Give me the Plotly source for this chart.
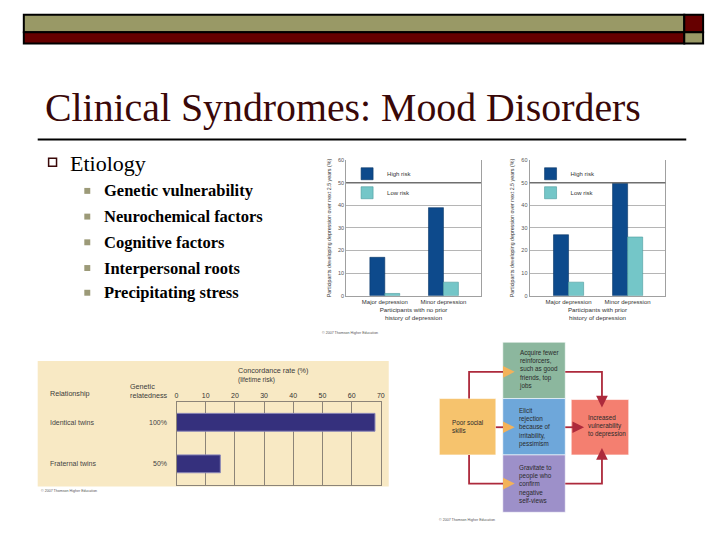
import plotly.graph_objects as go

W, H = 720, 540
def X(px): return px / W
def Y(py): return 1 - py / H

# ---------------- data ----------------
slide_title = "Clinical Syndromes: Mood Disorders"
main_bullet = "Etiology"
sub_bullets = ["Genetic vulnerability", "Neurochemical factors", "Cognitive factors",
               "Interpersonal roots", "Precipitating stress"]

risk_groups = ["High risk", "Low risk"]
depression_types = ["Major depression", "Minor depression"]
no_prior_high = [17, 39]
no_prior_low = [1, 6]
prior_high = [27, 50]
prior_low = [6, 26]

twin_relationships = ["Identical twins", "Fraternal twins"]
genetic_relatedness = ["100%", "50%"]
concordance_rate = [68, 15]
concordance_ticks = [0, 10, 20, 30, 40, 50, 60, 70]

# ---------------- styles ----------------
HIGH = "#0d4a8c"
LOW = "#74c6c8"
TWIN = "#35307d"
BEIGE = "#f8e9c4"
OLIVE = "#999966"
MAROON = "#660000"
TITLE_C = "#3a0808"
SERIF = "Liberation Serif"
SANS = "Liberation Sans"
ARROW = "#ad2a3c"

fig = go.Figure()

fig.add_trace(go.Bar(x=depression_types, y=no_prior_high, name=risk_groups[0],
                     marker=dict(color=HIGH, line=dict(color="#083566", width=0.6)),
                     xaxis="x", yaxis="y", legend="legend"))
fig.add_trace(go.Bar(x=depression_types, y=no_prior_low, name=risk_groups[1],
                     marker=dict(color=LOW, line=dict(color="#4a9a9c", width=0.6)),
                     xaxis="x", yaxis="y", legend="legend"))
fig.add_trace(go.Bar(x=depression_types, y=prior_high, name=risk_groups[0],
                     marker=dict(color=HIGH, line=dict(color="#083566", width=0.6)),
                     xaxis="x2", yaxis="y2", legend="legend2"))
fig.add_trace(go.Bar(x=depression_types, y=prior_low, name=risk_groups[1],
                     marker=dict(color=LOW, line=dict(color="#4a9a9c", width=0.6)),
                     xaxis="x2", yaxis="y2", legend="legend2"))
fig.add_trace(go.Bar(x=concordance_rate, y=twin_relationships, orientation="h",
                     width=0.43, showlegend=False,
                     marker=dict(color=TWIN, line=dict(color="#8b87b8", width=1)),
                     xaxis="x3", yaxis="y3"))

ytitle = "Participants developing depression over next 2.5 years (%)"

def bar_y(dom):
    return dict(domain=dom, range=[0, 60], dtick=10, showgrid=True, gridcolor="#b5b5b5",
                gridwidth=1, showline=True, mirror=True, linecolor="#a0a0a0", zeroline=False,
                ticks="", tickfont=dict(family=SANS, size=5.5, color="#555555"),
                title=dict(text=ytitle, font=dict(family=SANS, size=5.3, color="#333333"), standoff=6))

def bar_x(dom, title):
    return dict(domain=dom, range=[-0.66, 1.64], showline=True, linecolor="#a0a0a0",
                ticks="", tickfont=dict(family=SANS, size=6, color="#333333"),
                title=dict(text=title, font=dict(family=SANS, size=6.2, color="#333333"), standoff=3))

ydom = [Y(296), Y(159)]
layout = dict(
    width=W, height=H, margin=dict(l=0, r=0, t=0, b=0),
    paper_bgcolor="white", plot_bgcolor="rgba(0,0,0,0)",
    barmode="group", bargap=0.49, bargroupgap=0,
    xaxis=bar_x([X(347), X(483)], "Participants with no prior<br>history of depression"),
    yaxis=dict(bar_y(ydom), anchor="x"),
    xaxis2=dict(bar_x([X(532), X(669)], "Participants with prior<br>history of depression"), anchor="y2"),
    yaxis2=dict(bar_y(ydom), anchor="x2"),
    xaxis3=dict(domain=[X(176), X(382)], anchor="y3", side="top", range=[0, 70],
                tickvals=concordance_ticks, showgrid=True, gridcolor="#8c8478", gridwidth=1,
                showline=True, mirror=True, linecolor="#8c8478", zeroline=False, ticks="",
                tickfont=dict(family=SANS, size=7, color="#333333")),
    yaxis3=dict(domain=[Y(487), Y(403)], anchor="x3", type="category",
                categoryarray=twin_relationships, range=[1.5, -0.5],
                showticklabels=False, showline=True, mirror=True, linecolor="#8c8478",
                showgrid=False, ticks=""),
    legend=dict(x=X(348), y=Y(158), xanchor="left", yanchor="top", bgcolor="rgba(0,0,0,0)",
                font=dict(family=SANS, size=6, color="#333333"), itemwidth=30,
                tracegroupgap=0, traceorder="normal"),
    legend2=dict(x=X(533), y=Y(158), xanchor="left", yanchor="top", bgcolor="rgba(0,0,0,0)",
                 font=dict(family=SANS, size=6, color="#333333"), itemwidth=30,
                 tracegroupgap=0, traceorder="normal"),
)
fig.update_layout(**layout)

shapes = []
def rect(x0, y0, x1, y1, fill, line=None, lw=0, layer="below"):
    shapes.append(dict(type="rect", xref="paper", yref="paper", x0=X(x0), x1=X(x1),
                       y0=Y(y1), y1=Y(y0), fillcolor=fill,
                       line=dict(color=line or fill, width=lw), layer=layer))
def line(x0, y0, x1, y1, color, w):
    shapes.append(dict(type="line", xref="paper", yref="paper", x0=X(x0), x1=X(x1),
                       y0=Y(y0), y1=Y(y1), line=dict(color=color, width=w)))

# header bars
rect(22, 12, 688, 29.5, OLIVE, "black", 2, "above")
rect(22, 29.5, 688, 41, MAROON, "black", 2, "above")
rect(688, 12, 707, 29.5, MAROON, "black", 2, "above")
rect(688, 29.5, 707, 41, OLIVE, "black", 2, "above")
# title underline
line(36, 138, 690, 138, "black", 2)
# bullets
rect(47, 157, 55, 165, "white", "#3a0808", 1.5, "above")
rows_y = [190, 216, 242, 268, 293]
for yy in rows_y:
    rect(83, yy - 3, 89, yy + 3, "#9c9a78", None, 0, "above")

# twin chart beige panel
rect(36, 362, 390, 489, BEIGE)

# reference line at 50 on the bar charts
for xr, yr in (("x domain", "y"), ("x2 domain", "y2")):
    shapes.append(dict(type="line", xref=xr, yref=yr, x0=0, x1=1, y0=50, y1=50,
                       line=dict(color="#6f6f6f", width=1.6), layer="above"))

# flowchart boxes
boxes = [
    (505, 343, 568, 400, "#8cb79e", "Acquire fewer<br>reinforcers,<br>such as good<br>friends, top<br>jobs", 519, 371),
    (505, 400, 568, 457, "#6ea7da", "Elicit<br>rejection<br>because of<br>irritability,<br>pessimism", 519, 429),
    (505, 457, 568, 515, "#9d90c9", "Gravitate to<br>people who<br>confirm<br>negative<br>self-views", 519, 486),
    (441, 400, 498, 457, "#f6c36d", "Poor social<br>skills", 452, 428),
    (574, 401, 632, 457, "#f47f70", "Increased<br>vulnerability<br>to depression", 589, 428),
]
annotations = []
for x0, y0, x1, y1, col, txt_, tx, ty in boxes:
    rect(x0, y0, x1, y1, col, "rgba(255,255,255,0.6)", 1, "above")
    annotations.append(dict(x=X(tx), y=Y(ty), xref="paper", yref="paper", text=txt_,
                            showarrow=False, xanchor="left", yanchor="middle", align="left",
                            font=dict(family=SANS, size=6.3, color="#2a2a2a")))

# connector paths
def path(pts):
    d = "M " + " L ".join(f"{X(a):.5f},{Y(b):.5f}" for a, b in pts)
    shapes.append(dict(type="path", xref="paper", yref="paper", path=d,
                       line=dict(color=ARROW, width=1.8), layer="above"))
path([(471, 400), (471, 373), (510, 373)])
path([(568, 373), (605, 373), (605, 402)])
path([(498, 429), (510, 429)])
path([(568, 429), (580, 429)])
path([(471, 457), (471, 486), (510, 486)])
path([(568, 486), (605, 486), (605, 457)])

def head(x, y, ax, ay, color="#f3b25a"):
    annotations.append(dict(x=X(x), y=Y(y), xref="paper", yref="paper", text="",
                            showarrow=True, arrowhead=2, arrowsize=1.3, arrowwidth=1.8,
                            arrowcolor=color, ax=ax, ay=ay))
head(517, 373, -10, 0)
head(517, 429, -10, 0)
head(517, 486, -10, 0)
head(605, 409, 0, -9, ARROW)
head(587, 429, -10, 0, ARROW)
head(605, 450, 0, 9, ARROW)

fig.update_layout(shapes=shapes)

def txt(x, y, text, size, family=SANS, color="#333333", xanchor="left", yanchor="middle", bold=False):
    if bold:
        text = f"<b>{text}</b>"
    annotations.append(dict(x=X(x), y=Y(y), xref="paper", yref="paper", text=text,
                            showarrow=False, xanchor=xanchor, yanchor=yanchor, align="left",
                            font=dict(family=family, size=size, color=color)))

# slide text
txt(41, 106, slide_title, 39.8, SERIF, TITLE_C)
txt(67, 162, main_bullet, 22, SERIF, "black")
for yy, b in zip(rows_y, sub_bullets):
    txt(101, yy, b, 16.5, SERIF, "black", bold=True)

# twin chart texts
txt(46, 395, "Relationship", 7.2, color="#3a3a3a")
txt(169, 392, "Genetic<br>relatedness", 7.2, color="#3a3a3a", xanchor="right")
txt(273, 376, "Concordance rate (%)<br><span style='font-size:6.5px'>(lifetime risk)</span>", 7.2,
    color="#3a3a3a", xanchor="center")
for rel, gr in zip(twin_relationships, genetic_relatedness):
    annotations.append(dict(x=X(46), y=rel, xref="paper", yref="y3", text=rel, showarrow=False,
                            xanchor="left", yanchor="middle",
                            font=dict(family=SANS, size=7, color="#444444")))
    annotations.append(dict(x=X(168), y=rel, xref="paper", yref="y3", text=gr, showarrow=False,
                            xanchor="right", yanchor="middle",
                            font=dict(family=SANS, size=7, color="#444444")))

# copyrights
txt(321, 334, "© 2007 Thomson Higher Education", 3.6, color="#555555")
txt(37, 493, "© 2007 Thomson Higher Education", 3.6, color="#555555")
txt(439, 523, "© 2007 Thomson Higher Education", 3.6, color="#555555")

fig.update_layout(annotations=annotations)
fig.write_html("out.html", config={"displayModeBar": False},
               post_script="document.body.style.margin='0';document.body.style.padding='0';"
                           "document.body.style.overflow='hidden';")
